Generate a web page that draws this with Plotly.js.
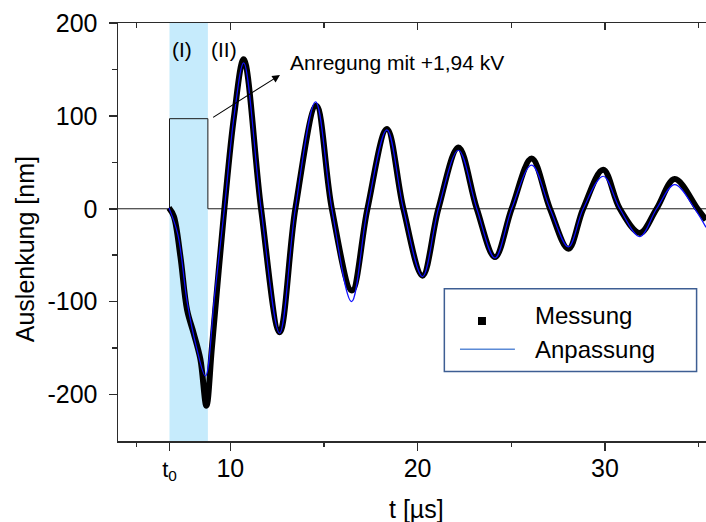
<!DOCTYPE html>
<html>
<head>
<meta charset="utf-8">
<script src="https://cdn.plot.ly/plotly-3.0.1.min.js"></script>
<style>html,body{margin:0;padding:0;background:#fff;}#chart{width:706px;height:522px;}</style>
</head>
<body>
<div id="chart"></div>
<script>
// ---- data ----
var T0 = 6.75;             // start of excitation (µs)
var T_END_PULSE = 8.8;     // end of excitation (µs)
var PULSE_HEIGHT = 97;     // drawn pulse height (nm)

var pulseT = [4, T0, T0, T_END_PULSE, T_END_PULSE, 35.4];
var pulseY = [0, 0, PULSE_HEIGHT, PULSE_HEIGHT, 0, 0];

var messT = [6.72, 6.98, 7.33, 7.69, 8.04, 8.4, 8.72, 9.02, 9.68, 10.2,
             10.71, 11.64, 12.63, 13.47, 14.59, 15.42, 16.49, 17.32, 18.36, 19.24, 20.26, 21.11,
             22.18, 23.16, 24.13, 25.02, 26.09, 27.07, 28.05, 28.84, 29.91, 30.8, 31.87, 32.76,
             33.73, 34.95, 35.4];
var messY = [1, -8, -51, -109, -134, -162, -212, -148, 0, 100,
             161, 0, -133, 0, 111, 0, -88, 0, 86, 0, -72, 0,
             66, 0, -52, 0, 54, 0, -43, 0, 42, 0, -26, 0,
             32, 0, -12];

var fitT = [6.72, 7.2, 7.69, 8.2, 8.67, 9.15, 9.68, 10.2,
            10.71, 11.64, 12.63, 13.47, 14.55, 15.42, 16.47, 17.32, 18.36, 19.24, 20.26, 21.11,
            22.18, 23.16, 24.13, 25.02, 26.09, 27.07, 28.05, 28.84, 29.91, 30.8, 31.87, 32.76,
            33.73, 34.8, 35.4];
var fitY = [1, -28, -100, -150, -180, -95, 0, 100,
            157, 0, -134, 0, 115, 0, -100, 0, 85, 0, -73, 0,
            63, 0, -53, 0, 47, 0, -41, 0, 35, 0, -30, 0,
            26, 0, -20];

var xTickVals = [T0, 10, 20, 30];
var xTickText = ['<span style="font-size:22px">t<sub>0</sub></span>', '10', '20', '30'];
var xMinorVals = [5, 15, 25, 35];
var yTickVals = [-200, -100, 0, 100, 200];
var yTickText = ['-200', '-100', '0', '100', '200'];
var yMinorVals = [-150, -50, 50, 150];

var seriesNames = ['Messung', 'Anpassung'];
var pulseLabel = 'Anregung mit +1,94 kV';
var phaseLabels = ['(I)', '(II)'];

// ---- chart ----
var FONT = 'Liberation Sans, Arial, Helvetica, sans-serif';
var AX = '#2b2b2b';

var traces = [
  {x: pulseT, y: pulseY, mode: 'lines', line: {color: '#1a1a1a', width: 1}, showlegend: false, hoverinfo: 'skip'},
  {x: messT, y: messY, name: seriesNames[0], mode: 'lines', line: {color: '#000', width: 6, shape: 'spline', smoothing: 1}, showlegend: false},
  {x: fitT, y: fitY, name: seriesNames[1], mode: 'lines', line: {color: '#1010ff', width: 1.2, shape: 'spline', smoothing: 1}, showlegend: false},
  {x: [4], y: [0], xaxis: 'x2', mode: 'markers', marker: {opacity: 0}, showlegend: false, hoverinfo: 'skip'}
];

var layout = {
  width: 706, height: 522,
  margin: {l: 118, r: 0, t: 23, b: 81, pad: 0},
  paper_bgcolor: '#fff', plot_bgcolor: '#fff',
  font: {family: FONT, color: '#000'},
  showlegend: false,
  xaxis: {
    range: [4, 35.4], tickmode: 'array', tickvals: xTickVals, ticktext: xTickText,
    ticks: 'outside', ticklen: 8, tickwidth: 1.5, tickcolor: AX,
    showline: true, linecolor: AX, linewidth: 1.5, showgrid: false, zeroline: false,
    tickfont: {size: 25, family: FONT}, ticklabelstandoff: -4,
    minor: {tickmode: 'array', tickvals: xMinorVals, ticks: 'outside', ticklen: 4.5, tickwidth: 1.5, tickcolor: AX, showgrid: false}
  },
  xaxis2: {
    overlaying: 'x', side: 'top', anchor: 'y', range: [4, 35.4], matches: 'x',
    tickmode: 'array', tickvals: [10, 20, 30], ticks: 'inside', ticklen: 7, tickwidth: 1.5, tickcolor: AX,
    showticklabels: false, showline: true, linecolor: AX, linewidth: 1.5, showgrid: false, zeroline: false,
    minor: {tickmode: 'array', tickvals: xMinorVals, ticks: 'inside', ticklen: 5, tickwidth: 1.5, tickcolor: AX, showgrid: false}
  },
  yaxis: {
    range: [-250, 200], tickmode: 'array', tickvals: yTickVals, ticktext: yTickText,
    ticks: 'outside', ticklen: 8, tickwidth: 1.5, tickcolor: AX,
    showline: true, linecolor: AX, linewidth: 1.5, showgrid: false, zeroline: false,
    tickfont: {size: 25, family: FONT}, ticklabelstandoff: 6,
    minor: {tickmode: 'array', tickvals: yMinorVals, ticks: 'outside', ticklen: 4.5, tickwidth: 1.5, tickcolor: AX, showgrid: false}
  },
  shapes: [
    {type: 'rect', xref: 'x', yref: 'paper', x0: T0, x1: T_END_PULSE, y0: 0, y1: 1, fillcolor: '#c6ebfc', line: {width: 0}, layer: 'below'},
    // legend frame and glyphs
    {type: 'rect', xref: 'paper', yref: 'paper', x0: 0.555, x1: 0.984, y0: 0.166, y1: 0.364, line: {color: '#3d5e93', width: 1.5}, fillcolor: 'rgba(255,255,255,0)'},
    {type: 'rect', xref: 'paper', yref: 'paper', x0: 0.6122, x1: 0.6258, y0: 0.2775, y1: 0.2967, line: {width: 0}, fillcolor: '#000'},
    {type: 'line', xref: 'paper', yref: 'paper', x0: 0.5816, x1: 0.675, y0: 0.2194, y1: 0.2194, line: {color: '#5b8ad6', width: 1.5}}
  ],
  annotations: [
    {xref: 'paper', yref: 'paper', x: -0.158, y: 0.459, text: 'Auslenkung [nm]', textangle: -90, showarrow: false, font: {size: 25}, xanchor: 'center', yanchor: 'middle'},
    {xref: 'paper', yref: 'paper', x: 0.507, y: -0.162, text: 't [µs]', showarrow: false, font: {size: 25}, xanchor: 'center', yanchor: 'middle'},
    {xref: 'x', yref: 'y', x: 7.44, y: 172, text: phaseLabels[0], showarrow: false, font: {size: 21}, xanchor: 'center', yanchor: 'middle'},
    {xref: 'x', yref: 'y', x: 9.66, y: 172, text: phaseLabels[1], showarrow: false, font: {size: 21}, xanchor: 'center', yanchor: 'middle'},
    {xref: 'x', yref: 'y', x: 13.1, y: 157, text: pulseLabel, showarrow: false, font: {size: 21}, xanchor: 'left', yanchor: 'middle'},
    {xref: 'x', yref: 'y', x: 12.65, y: 144, axref: 'x', ayref: 'y', ax: 9.0, ay: 97.4, text: '', showarrow: true,
     arrowhead: 2, arrowsize: 1.4, arrowwidth: 1.1, arrowcolor: '#000', standoff: 0, startstandoff: 0},
    {xref: 'paper', yref: 'paper', x: 0.7055, y: 0.3014, text: seriesNames[0], showarrow: false, font: {size: 24}, xanchor: 'left', yanchor: 'middle'},
    {xref: 'paper', yref: 'paper', x: 0.7055, y: 0.220, text: seriesNames[1], showarrow: false, font: {size: 24}, xanchor: 'left', yanchor: 'middle'}
  ]
};

Plotly.newPlot('chart', traces, layout, {staticPlot: true, displayModeBar: false});
</script>
</body>
</html>
